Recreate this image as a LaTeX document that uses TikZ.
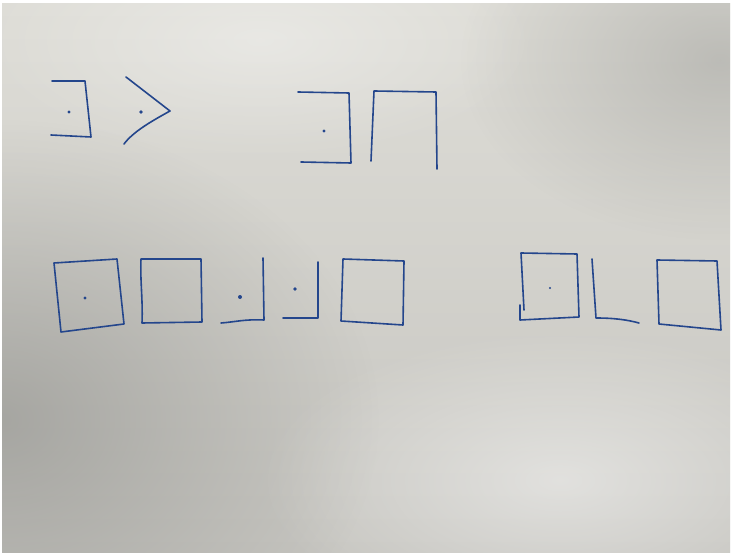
\documentclass[tikz,border=0pt]{standalone}
\usetikzlibrary{fadings}

\definecolor{ink}{RGB}{36,70,140}
\definecolor{paperlight}{RGB}{222,221,215}
\definecolor{paperdark}{RGB}{198,197,192}
\definecolor{shadow}{RGB}{150,150,146}

\tikzfading[name=softspot, inner color=transparent!0, outer color=transparent!100]

\begin{document}
\begin{tikzpicture}[
    x=1pt, y=-1pt,
    pen/.style={draw=ink, line width=1.6pt, line cap=round, line join=round},
    pendot/.style={fill=ink}
]
\useasboundingbox (0,0) rectangle (733,553);
% paper
\fill[white] (0,0) rectangle (733,553);
\shade[top color=paperlight, bottom color=paperdark] (2,4) rectangle (730,553);
\begin{scope}
\clip (2,4) rectangle (730,553);
\fill[shadow, path fading=softspot, fill opacity=0.7] (0,420) ellipse (380 and 300);
\fill[shadow, path fading=softspot, fill opacity=0.45] (720,60) ellipse (260 and 180);
\fill[white, path fading=softspot, fill opacity=0.45] (560,480) ellipse (300 and 150);
\fill[white, path fading=softspot, fill opacity=0.35] (260,40) ellipse (280 and 120);
\end{scope}

% first row
\draw[pen] (52,81) -- (85,81) -- (91,137) -- (51,135);
\fill[pendot] (69,112) circle (1.7);
\draw[pen] (126,77) -- (170,111) .. controls (150,122) and (133,132) .. (124,144);
\fill[pendot] (141,112) circle (1.8);

\draw[pen] (298,92) -- (349,93) -- (351,163) -- (301,162);
\fill[pendot] (324,131) circle (1.6);
\draw[pen] (371,161) -- (374,91) -- (436,92) -- (437,169);

% second row
\draw[pen] (54,263) -- (117,259) -- (124,324) -- (61,332) -- cycle;
\fill[pendot] (85,298) circle (1.7);
\draw[pen] (141,259) -- (201,259) -- (202,322) -- (142,323) .. controls (143,300) and (140,280) .. cycle;
\draw[pen] (263,258) -- (264,320) .. controls (245,319) and (235,322) .. (221,323);
\fill[pendot] (240,297) circle (2);
\draw[pen] (318,262) -- (318,318) -- (283,318);
\fill[pendot] (295,289) circle (1.8);
\draw[pen] (343,259) -- (404,261) -- (403,325) -- (341,321) -- cycle;

\draw[pen] (524,310) -- (521,253) -- (577,254) -- (579,317) -- (520,320) -- (520,305);
\fill[pendot] (550,288) circle (1.1);
\draw[pen] (592,259) -- (596,318) .. controls (615,318) and (628,320) .. (639,323);
\draw[pen] (657,260) -- (717,261) -- (721,330) -- (659,324) -- cycle;
\end{tikzpicture}
\end{document}
